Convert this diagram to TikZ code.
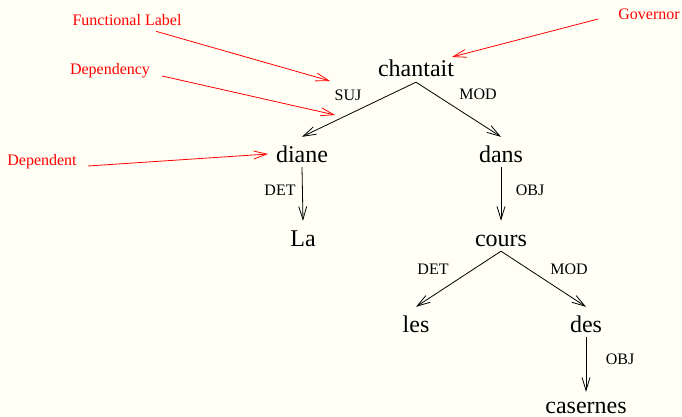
\documentclass[tikz,border=0pt]{standalone}
\usepackage{fontspec}
\setmainfont{Liberation Serif}
\usetikzlibrary{arrows.meta}
\definecolor{bgcream}{RGB}{255,255,245}
\begin{document}
\begin{tikzpicture}[x=1pt,y=-1pt,
  word/.style={font=\fontsize{24}{28}\selectfont, text height=25pt, text depth=5pt, inner sep=0pt, anchor=base},
  lab/.style={font=\fontsize{16}{19}\selectfont, inner sep=0pt},
  note/.style={lab, text=red},
  deparrow/.style={draw=black, line width=0.8pt, -{Straight Barb[length=13pt,width=8pt]}},
  notearrow/.style={draw=red, line width=0.8pt, -{Straight Barb[length=13pt,width=8pt]}}]
\fill[bgcream] (0,0) rectangle (682,417);
\useasboundingbox (0,0) rectangle (682,417);

% words
\node[word] (chantait) at (416,77) {chantait};
\node[word] (diane) at (302,162) {diane};
\node[word] (dans) at (501,162) {dans};
\node[word] (La) at (303,246) {La};
\node[word] (cours) at (501,246) {cours};
\node[word] (les) at (416,332) {les};
\node[word] (des) at (586,332) {des};
\node[word, text height=21pt, text depth=0.5pt] (casernes) at (586,413) {casernes};

% dependencies
\draw[deparrow] (chantait.south) -- (diane.north);
\draw[deparrow] (chantait.south) -- (dans.north);
\draw[deparrow] (diane.south) -- (La.north);
\draw[deparrow] (dans.south) -- (cours.north);
\draw[deparrow] (cours.south) -- (les.north);
\draw[deparrow] (cours.south) -- (des.north);
\draw[deparrow] (des.south) -- (casernes.north);

% functional labels
\node[lab] (lsuj) at (348,95) {SUJ};
\node[lab] (lmod1) at (478,94) {MOD};
\node[lab] (ldet1) at (280,190) {DET};
\node[lab] (lobj1) at (530,190) {OBJ};
\node[lab] (ldet2) at (433,269) {DET};
\node[lab] (lmod2) at (569,269) {MOD};
\node[lab] (lobj2) at (620,359) {OBJ};

% annotations
\node[note] (fl) at (127,20) {Functional Label};
\node[note] (dy) at (110,71) {Dependency};
\node[note] (dt) at (42,162) {Dependent};
\node[note] (gv) at (649,14) {Governor};

\coordinate (flT) at (330,81);
\coordinate (dyT) at (335,115);
\coordinate (dtT) at (268,154);
\coordinate (gvT) at (452,57);

\draw[notearrow] ([shift={(29,5.5)}]fl.south) -- (flT);
\draw[notearrow] ([shift={(12,5)}]dy.east) -- (dyT);
\draw[notearrow] ([shift={(11,4)}]dt.east) -- (dtT);
\draw[notearrow] ([shift={(-20,5)}]gv.west) -- (gvT);
\end{tikzpicture}
\end{document}
